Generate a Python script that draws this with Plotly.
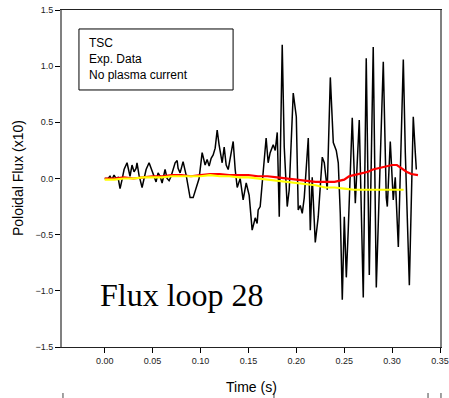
import plotly.graph_objects as go

# ---- data ----
exp_t = [0.0000, 0.0034, 0.0055, 0.0076, 0.0097, 0.0118, 0.0139, 0.0160, 0.0181, 0.0202,
         0.0233, 0.0254, 0.0264, 0.0285, 0.0306, 0.0327, 0.0337, 0.0358, 0.0379, 0.0390,
         0.0411, 0.0432, 0.0463, 0.0484, 0.0505, 0.0536, 0.0557, 0.0578, 0.0599, 0.0620,
         0.0630, 0.0651, 0.0672, 0.0693, 0.0714, 0.0735, 0.0756, 0.0766, 0.0787,
         0.0818, 0.0850, 0.0891, 0.0923, 0.0954, 0.0985, 0.1017, 0.1048, 0.1069, 0.1090,
         0.1111, 0.1132, 0.1153, 0.1174, 0.1194, 0.1226, 0.1247, 0.1268, 0.1289, 0.1309,
         0.1341, 0.1362, 0.1383, 0.1414, 0.1445, 0.1477, 0.1508, 0.1518, 0.1539, 0.1560,
         0.1571, 0.1591, 0.1602, 0.1623, 0.1644, 0.1664, 0.1685,
         0.1706, 0.1727, 0.1759, 0.1780, 0.1801, 0.1822, 0.1853, 0.1874, 0.1905, 0.1926,
         0.1968, 0.2000, 0.2020, 0.2041, 0.2062, 0.2083, 0.2125, 0.2146, 0.2166, 0.2198,
         0.2229, 0.2271, 0.2292, 0.2323, 0.2355, 0.2386, 0.2417, 0.2438,
         0.2459, 0.2480, 0.2501, 0.2522, 0.2542, 0.2584, 0.2616, 0.2657, 0.2699, 0.2730,
         0.2762, 0.2803, 0.2835, 0.2876, 0.2908, 0.2939, 0.2950, 0.2981, 0.3012, 0.3033,
         0.3065, 0.3117, 0.3138, 0.3180, 0.3221, 0.3242, 0.3253]
exp_v = [0.00, 0.00, 0.02, -0.01, 0.03, 0.00, 0.01, -0.09, -0.01, 0.08,
         0.14, 0.05, 0.02, 0.12, 0.06, 0.09, 0.14, 0.03, -0.06, -0.08,
         0.00, 0.08, 0.14, 0.09, 0.03, -0.03, 0.05, 0.02, -0.04, 0.06,
         0.08, 0.00, -0.02, 0.02, 0.09, 0.14, 0.16, 0.09, 0.05,
         0.15, 0.03, -0.17, -0.17, -0.09, 0.00, 0.23, 0.12, 0.17, 0.11,
         0.18, 0.21, 0.27, 0.43, 0.30, 0.14, 0.28, 0.12, 0.08, 0.17,
         0.33, 0.08, -0.08, 0.00, -0.19, -0.04, -0.15, -0.25, -0.46, -0.39,
         -0.35, -0.40, -0.28, -0.25, -0.06, 0.17, 0.36,
         0.14, 0.23, 0.30, 0.25, 0.41, -0.34, 1.19, 0.28, -0.25, -0.10,
         0.76, 0.55, -0.28, -0.24, -0.31, -0.17, 0.36, -0.46, 0.01, -0.57,
         -0.34, 0.19, 0.14, -0.10, 0.90, 0.32, 0.25, 0.14,
         -0.31, -1.08, -0.34, -0.88, -0.46, 0.54, -0.22, 0.52, -1.06, 1.07,
         -0.86, 1.17, -0.97, 0.08, 1.04, -0.17, -0.25, 0.33, -0.19, 0.01,
         -0.61, 1.06, 0.23, -0.95, 0.55, 0.23, 0.08]

tsc_t = [0.000, 0.010, 0.020, 0.030, 0.040, 0.050, 0.060, 0.070, 0.080, 0.090,
         0.100, 0.110, 0.120, 0.130, 0.140, 0.150, 0.160, 0.170, 0.180, 0.190,
         0.200, 0.210, 0.220, 0.230, 0.240, 0.250, 0.255, 0.260, 0.265, 0.270,
         0.275, 0.280, 0.285, 0.290, 0.295, 0.300, 0.305, 0.310, 0.315, 0.320, 0.327]
tsc_v = [0.00, 0.00, 0.01, 0.00, 0.01, 0.02, 0.02, 0.03, 0.03, 0.02,
         0.03, 0.04, 0.04, 0.03, 0.03, 0.03, 0.02, 0.02, 0.01, 0.00,
         -0.01, -0.02, -0.03, -0.03, -0.03, -0.01, 0.02, 0.03, 0.04, 0.05,
         0.06, 0.08, 0.09, 0.10, 0.11, 0.12, 0.12, 0.09, 0.06, 0.04, 0.03]

noip_t = [0.000, 0.010, 0.020, 0.030, 0.040, 0.050, 0.060, 0.070, 0.080, 0.090,
          0.100, 0.110, 0.120, 0.130, 0.140, 0.150, 0.160, 0.170, 0.180, 0.190,
          0.200, 0.210, 0.220, 0.230, 0.240, 0.250, 0.260, 0.270, 0.280, 0.290,
          0.300, 0.305, 0.312]
noip_v = [-0.01, -0.01, 0.00, 0.00, 0.01, 0.01, 0.01, 0.02, 0.02, 0.02,
          0.02, 0.03, 0.02, 0.02, 0.01, 0.01, 0.00, -0.01, -0.02, -0.03,
          -0.04, -0.05, -0.06, -0.08, -0.08, -0.09, -0.10, -0.10, -0.10, -0.10,
          -0.10, -0.10, -0.10]

x_ticks = [0.00, 0.05, 0.10, 0.15, 0.20, 0.25, 0.30, 0.35]
y_ticks = [-1.5, -1.0, -0.5, 0.0, 0.5, 1.0, 1.5]
legend_lines = ["TSC", "Exp. Data", "No plasma current"]

SANS = "Liberation Sans, Arial, sans-serif"

fig = go.Figure()
fig.add_trace(go.Scatter(x=exp_t, y=exp_v, mode="lines",
                         line=dict(color="black", width=1.5), showlegend=False))
fig.add_trace(go.Scatter(x=tsc_t, y=tsc_v, mode="lines",
                         line=dict(color="#FF0000", width=2.2), showlegend=False))
fig.add_trace(go.Scatter(x=noip_t, y=noip_v, mode="lines",
                         line=dict(color="#FFFF00", width=2.2), showlegend=False))

fig.update_layout(
    width=449, height=398,
    margin=dict(l=62, r=9, t=10, b=51, autoexpand=False),
    paper_bgcolor="white", plot_bgcolor="white",
    font=dict(family=SANS, color="black"),
    xaxis=dict(range=[-0.0446, 0.35], tickvals=x_ticks, tickformat=".2f",
               automargin=False,
               showgrid=False, zeroline=False, ticks="outside", ticklen=5,
               tickcolor="black", showline=True, linecolor="#222222", linewidth=1.3,
               mirror=True, tickfont=dict(size=9, family=SANS, color="#222222")),
    yaxis=dict(range=[-1.5, 1.5], tickvals=y_ticks, tickformat=".1f",
               automargin=False,
               showgrid=False, zeroline=False, ticks="outside", ticklen=5,
               tickcolor="black", showline=True, linecolor="#808080", linewidth=2,
               mirror=True, tickfont=dict(size=9, family=SANS, color="#222222")),
)

# legend-like text box
fig.add_shape(type="rect", xref="x", yref="y", x0=-0.0269, x1=0.134, y0=0.788, y1=1.331,
              line=dict(color="black", width=1), fillcolor="white", layer="above")
for txt, yv in zip(legend_lines, [1.207, 1.065, 0.923]):
    fig.add_annotation(x=-0.0184, y=yv, xref="x", yref="y", text=txt, showarrow=False,
                       xanchor="left", yanchor="middle", font=dict(size=12, family=SANS))

fig.add_annotation(x=-0.0070, y=-1.04, xref="x", yref="y", text="Flux loop 28",
                   showarrow=False, xanchor="left", yanchor="middle",
                   font=dict(size=32, family="Liberation Serif, Times New Roman, serif"))

fig.add_annotation(x=0.1534, y=-0.118, xref="x", yref="paper", text="Time (s)",
                   showarrow=False, xanchor="center", yanchor="middle",
                   font=dict(size=14, family=SANS))
fig.add_annotation(x=-0.1177, y=0.0, xref="paper", yref="y", text="Poloidal Flux (x10)",
                   showarrow=False, xanchor="center", yanchor="middle", textangle=-90,
                   font=dict(size=14, family=SANS))

# small stray marks at bottom edge
for px in [0.0026, 0.5608, 0.9683, 1.0026]:
    fig.add_shape(type="line", xref="paper", yref="paper", x0=px, x1=px, y0=-0.1365, y1=-0.1513,
                  line=dict(color="#444444", width=1))

fig.write_html("out.html")
